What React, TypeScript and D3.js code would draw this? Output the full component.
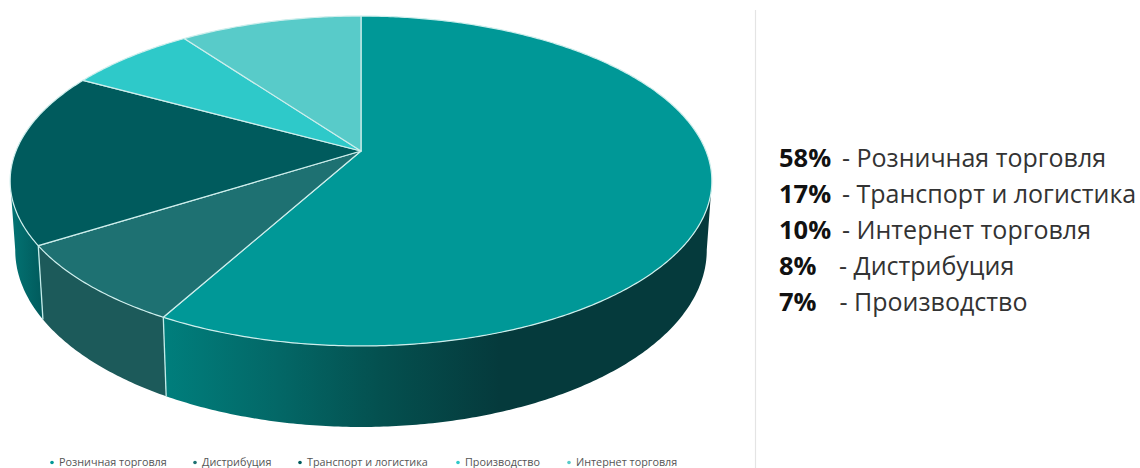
import React from "react";
import * as d3 from "d3";

const categories = ["Розничная торговля", "Дистрибуция", "Транспорт и логистика", "Производство", "Интернет торговля"];
const shares = [58, 8, 17, 7, 10];
const topColors = ["#009897", "#1e7172", "#005b5d", "#2ec9c9", "#58cbc9"];
const wallColors = ["url(#wallShade)", "#1c5a5a", "url(#wallLeft)", "#005b5d", "#58cbc9"];
const legendDots = ["#009897", "#1e7172", "#005b5d", "#2ec9c9", "#58cbc9"];
const legendTextX = [59, 202, 307, 465, 576];
const summaryOrder = [0, 2, 4, 1, 3];
const summaryRows = [
  { pct: "58%", label: "- Розничная торговля", x: 842 },
  { pct: "17%", label: "- Транспорт и логистика", x: 842 },
  { pct: "10%", label: "- Интернет торговля", x: 842 },
  { pct: "8%", label: "- Дистрибуция", x: 839 },
  { pct: "7%", label: "- Производство", x: 839.5 },
];

const FONT = "'Open Sans', 'Noto Sans', sans-serif";

// Tilted disc: a unit circle seen in perspective, with its hub above the rim's centre.
const hub = { x: 361, y: 151 };
const spreadX = 345;
const spreadY = 159.5;
const tilt = -0.1818;

type Pt = [number, number];
const topAt = (angle: number): Pt => {
  const u = Math.sin(angle);
  const v = -Math.cos(angle);
  const d = 1 + tilt * v;
  return [hub.x + (spreadX * u) / d, hub.y + (spreadY * v) / d];
};
// The lower rim of the disc's wall, slightly narrower and further down.
const baseX = d3.scaleLinear().domain([0, 1]).range([hub.x, hub.x + 340 / spreadX]);
const baseY = d3.scaleLinear().domain([0, 1]).range([218, 218 + 171 / spreadY]);
const baseAt = (angle: number): Pt => {
  const [x, y] = topAt(angle);
  return [baseX(x - hub.x), baseY(y - hub.y)];
};

const arcs = d3.pie<number>().sort(null).value((d) => d)(shares);
const line = d3.line();

const sweep = (a0: number, a1: number) => {
  const n = Math.max(2, Math.ceil(Math.abs(a1 - a0) / 0.01));
  return d3.range(n + 1).map((i) => a0 + ((a1 - a0) * i) / n);
};
const closed = (pts: Pt[]) => (line(pts) as string) + "Z";

const wallPath = (a0: number, a1: number) =>
  closed([...sweep(a0, a1).map(topAt), ...sweep(a1, a0).map(baseAt)]);

// The wall runs between the two points where the rim turns back, at its widest.
const frontStart = Math.acos(-0.1816);
const frontEnd = 2 * Math.PI - frontStart;

export default function App() {
  return (
    <svg
      width={1140}
      height={468}
      viewBox="0 0 1140 468"
      style={{ position: "absolute", left: 0, top: 0, background: "#fff" }}
    >
      <defs>
        <linearGradient id="wallShade" gradientUnits="userSpaceOnUse" x1={161} x2={500} y1={0} y2={0}>
          <stop offset="0" stopColor="#007f7d" />
          <stop offset="0.35" stopColor="#036766" />
          <stop offset="0.65" stopColor="#04504f" />
          <stop offset="1" stopColor="#053a3c" />
        </linearGradient>
        <linearGradient id="wallLeft" gradientUnits="userSpaceOnUse" x1={10} x2={48} y1={0} y2={0}>
          <stop offset="0" stopColor="#037474" />
          <stop offset="1" stopColor="#005658" />
        </linearGradient>
      </defs>

      {arcs.slice(0, 3).map((a, i) => {
        const from = Math.max(a.startAngle, frontStart);
        const to = Math.min(a.endAngle, frontEnd);
        return <path key={categories[i]} d={wallPath(from, to)} fill={wallColors[i]} />;
      })}

      {/* seams between the wall's segments */}
      {arcs.slice(0, 2).map((a) => (
        <path
          key={a.endAngle}
          d={line([topAt(a.endAngle), baseAt(a.endAngle)]) as string}
          stroke="#c4ecea"
          strokeWidth={1.3}
          fill="none"
        />
      ))}

      {arcs.map((a, i) => (
        <path
          key={categories[i]}
          d={closed([[hub.x, hub.y], ...sweep(a.startAngle, a.endAngle).map(topAt)])}
          fill={topColors[i]}
          stroke="#cdeeec"
          strokeWidth={1.2}
          strokeLinejoin="round"
        />
      ))}

      <line x1={755.5} x2={755.5} y1={10} y2={468} stroke="#e4e4e4" strokeWidth={1.2} />

      {summaryRows.map((row, i) => {
        const y = 166.5 + i * 36.2;
        return (
          <g key={row.pct} fontFamily={FONT} data-share={shares[summaryOrder[i]]}>
            <text x={779} y={y} fontSize={25.5} fontWeight={700} fill="#111">
              {row.pct}
            </text>
            <text x={row.x} y={y} fontSize={25} fill="#333">
              {row.label}
            </text>
          </g>
        );
      })}

      {categories.map((c, i) => (
        <g key={c}>
          <circle cx={legendTextX[i] - 7} cy={462.5} r={1.8} fill={legendDots[i]} />
          <text x={legendTextX[i]} y={466} fontFamily={FONT} fontSize={10.8} fill="#555">
            {c}
          </text>
        </g>
      ))}
    </svg>
  );
}
